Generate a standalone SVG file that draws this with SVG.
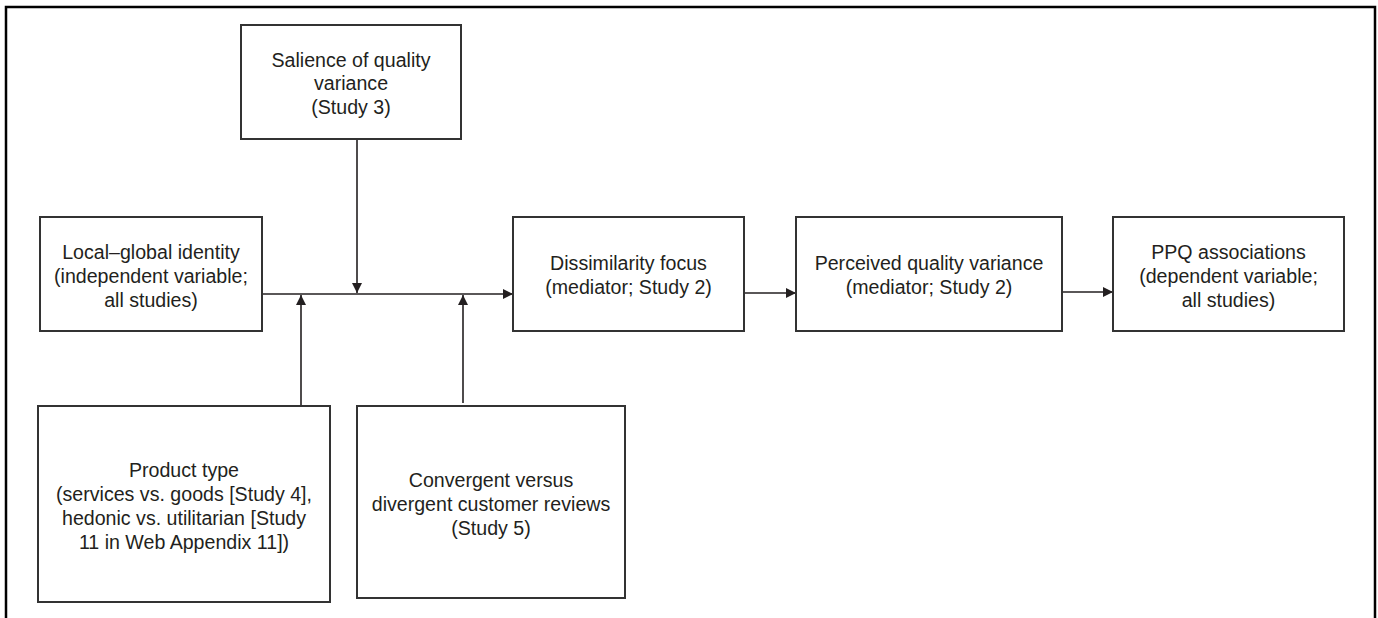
<svg xmlns="http://www.w3.org/2000/svg" width="1378" height="618" viewBox="0 0 1378 618">
<style>
.box{fill:#fff;stroke:#333;stroke-width:2}
.t{font-family:"Liberation Sans",Arial,sans-serif;font-size:19.6px;fill:#231f20;text-anchor:middle}
.c{stroke:#231f20;stroke-width:1.6;fill:none}
</style>
<defs>
<marker id="ah" viewBox="0 0 10 10" refX="10" refY="5" markerWidth="10" markerHeight="10" markerUnits="userSpaceOnUse" orient="auto">
<path d="M0,0 L10,5 L0,10 Z" fill="#231f20"/>
</marker>
</defs>
<rect width="1378" height="618" fill="#fff"/>
<path d="M6,620 V7 H1375 V620" fill="none" stroke="#000" stroke-width="2.5"/>
<g id="connectors">
<line class="c" x1="263" y1="294" x2="513" y2="294" marker-end="url(#ah)"/>
<line class="c" x1="357" y1="139" x2="357" y2="293" marker-end="url(#ah)"/>
<line class="c" x1="301" y1="406" x2="301" y2="295" marker-end="url(#ah)"/>
<line class="c" x1="463" y1="403" x2="463" y2="295" marker-end="url(#ah)"/>
<line class="c" x1="744" y1="293" x2="796" y2="293" marker-end="url(#ah)"/>
<line class="c" x1="1062" y1="292" x2="1113" y2="292" marker-end="url(#ah)"/>
</g>
<g id="salience">
<rect class="box" x="241" y="25" width="220" height="114"/>
<text class="t" x="351" y="67">Salience of quality</text>
<text class="t" x="351" y="90">variance</text>
<text class="t" x="351" y="114">(Study 3)</text>
</g>
<g id="local-global">
<rect class="box" x="40" y="217" width="222" height="114"/>
<text class="t" x="151" y="259">Local–global identity</text>
<text class="t" x="151" y="283">(independent variable;</text>
<text class="t" x="151" y="307">all studies)</text>
</g>
<g id="dissimilarity">
<rect class="box" x="513" y="217" width="231" height="114"/>
<text class="t" x="628.5" y="270">Dissimilarity focus</text>
<text class="t" x="628.5" y="294">(mediator; Study 2)</text>
</g>
<g id="perceived">
<rect class="box" x="796" y="217" width="266" height="114"/>
<text class="t" x="929" y="270">Perceived quality variance</text>
<text class="t" x="929" y="294">(mediator; Study 2)</text>
</g>
<g id="ppq">
<rect class="box" x="1113" y="217" width="231" height="114"/>
<text class="t" x="1228.5" y="259">PPQ associations</text>
<text class="t" x="1228.5" y="283">(dependent variable;</text>
<text class="t" x="1228.5" y="307">all studies)</text>
</g>
<g id="product-type">
<rect class="box" x="38" y="406" width="292" height="196"/>
<text class="t" x="184" y="477">Product type</text>
<text class="t" x="184" y="501">(services vs. goods [Study 4],</text>
<text class="t" x="184" y="525">hedonic vs. utilitarian [Study</text>
<text class="t" x="184" y="549">11 in Web Appendix 11])</text>
</g>
<g id="reviews">
<rect class="box" x="357" y="406" width="268" height="192"/>
<text class="t" x="491" y="487">Convergent versus</text>
<text class="t" x="491" y="511">divergent customer reviews</text>
<text class="t" x="491" y="535">(Study 5)</text>
</g>
</svg>
